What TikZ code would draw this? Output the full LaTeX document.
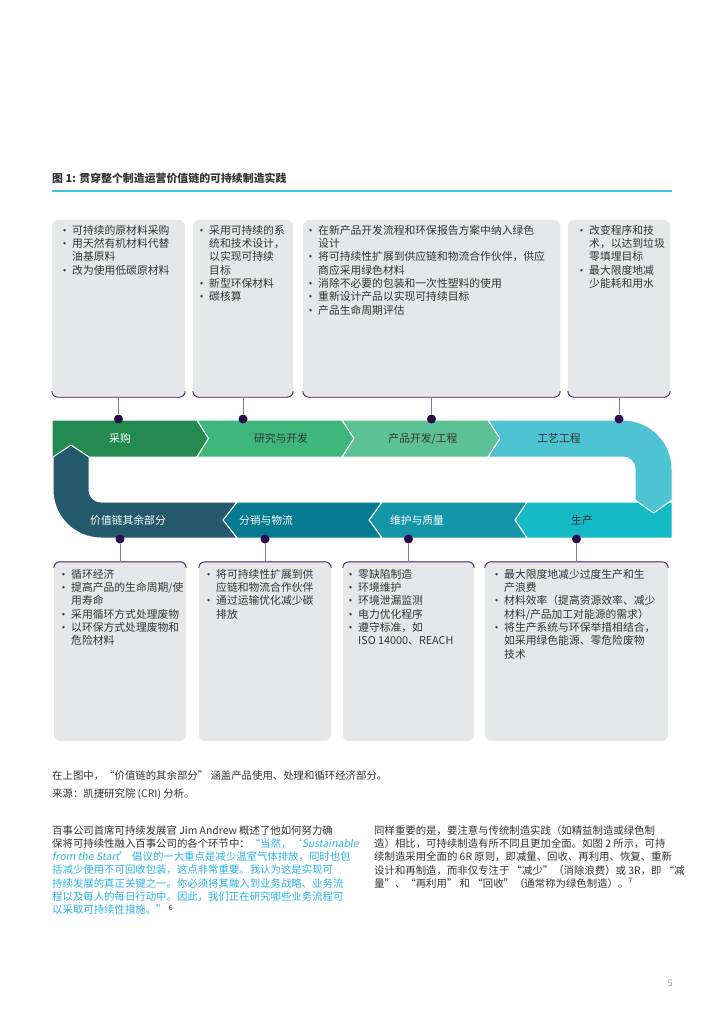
\documentclass[tikz,border=0pt]{standalone}
\usepackage{fontspec}
\setmainfont{Noto Sans CJK SC}
\newfontfamily\slantfont{Noto Sans CJK SC}[FakeSlant=0.18]
\newfontfamily\bulletfont{Liberation Sans}
\usepackage{xcolor}
\usepackage{tikz}
\usetikzlibrary{positioning}
\definecolor{vcInk}{HTML}{333333}
\definecolor{vcMuted}{HTML}{9A9A9A}
\definecolor{vcGreenA}{HTML}{23894F}
\definecolor{vcGreenB}{HTML}{3DB77C}
\definecolor{vcGreenC}{HTML}{5DC196}
\definecolor{vcCyan}{HTML}{4EC3D1}
\definecolor{vcTealA}{HTML}{14BBC7}
\definecolor{vcTealB}{HTML}{1496A8}
\definecolor{vcTealC}{HTML}{057A90}
\definecolor{vcNavy}{HTML}{245A6C}
\definecolor{vcBox}{HTML}{E6E7E8}
\definecolor{vcEdge}{HTML}{3B1F5E}
\definecolor{vcStem}{HTML}{8D6FA9}
\definecolor{vcDot}{HTML}{2C0B4C}
\definecolor{vcRule}{HTML}{3CC3E6}
\definecolor{vcQuote}{HTML}{2DB3E3}
\newcommand{\vbul}{\makebox[9pt][l]{\raisebox{1pt}{\bulletfont\fontsize{8.5}{8.5}\selectfont\textbullet}}}
\newcommand{\vind}{\hspace*{9pt}}
\tikzset{
  vc page/.style={x=1pt, y=-1pt, text=vcInk, line join=round},
  vc seg/.style={draw=white, line width=1pt},
  vc seglabel/.style={font=\fontsize{10.8}{13}\selectfont, inner sep=0pt},
  vc box/.style={fill=vcBox, rounded corners=6pt, inner sep=0pt},
  vc edge/.style={draw=vcEdge, line width=0.9pt},
  vc stem/.style={draw=vcStem, line width=0.9pt},
  vc dot/.style={circle, fill=vcDot, inner sep=0pt, minimum size=9pt},
  vc list/.style={anchor=north west, align=left, inner sep=0pt,
    font=\fontsize{10.8}{13.3}\selectfont},
  vc para/.style={anchor=north west, align=left, inner sep=0pt,
    font=\fontsize{10.4}{13.3}\selectfont}
}

\begin{document}
\begin{tikzpicture}[vc page]
\fill[white] (0,0) rectangle (724,1024);
\useasboundingbox (0,0) rectangle (724,1024);

\node[anchor=north west, inner sep=0pt, font=\fontsize{10.9}{13}\selectfont\bfseries] (title) at (52,173) {图 1: 贯穿整个制造运营价值链的可持续制造实践};
\draw[vcRule, line width=1.6pt] (52,191) -- (672,191);

% upper boxes
\node[vc box, minimum width=133pt, minimum height=177pt] (top1) at (118.5,308.5) {};
\node[vc box, minimum width=100pt, minimum height=177pt] (top2) at (243,308.5) {};
\node[vc box, minimum width=257pt, minimum height=177pt] (top3) at (431.5,308.5) {};
\node[vc box, minimum width=102pt, minimum height=177pt] (top4) at (619,308.5) {};
\foreach \b in {top1,top2,top3,top4}
  \draw[vc edge] ([yshift=6pt]\b.south west) to[out=-90,in=180] ([xshift=6pt]\b.south west)
    -- ([xshift=-6pt]\b.south east) to[out=0,in=-90] ([yshift=6pt]\b.south east);

\node[vc list] (listTop1) at (63,225) {\vbul 可持续的原材料采购\\ \vbul 用天然有机材料代替\\ \vind 油基原料\\ \vbul 改为使用低碳原材料};
\node[vc list] (listTop2) at (200,225) {\vbul 采用可持续的系\\ \vind 统和技术设计，\\ \vind 以实现可持续\\ \vind 目标\\ \vbul 新型环保材料\\ \vbul 碳核算};
\node[vc list] (listTop3) at (309,225) {\vbul 在新产品开发流程和环保报告方案中纳入绿色\\ \vind 设计\\ \vbul 将可持续性扩展到供应链和物流合作伙伴，供应\\ \vind 商应采用绿色材料\\ \vbul 消除不必要的包装和一次性塑料的使用\\ \vbul 重新设计产品以实现可持续目标\\ \vbul 产品生命周期评估};
\node[vc list] (listTop4) at (580,225) {\vbul 改变程序和技\\ \vind 术，以达到垃圾\\ \vind 零填埋目标\\ \vbul 最大限度地减\\ \vind 少能耗和用水};

% value chain band
\path[vc seg, fill=vcGreenA] (52,420) -- (197,420) -- (208.5,438.5) -- (197,457) -- (52,457) -- cycle;
\path[vc seg, fill=vcGreenB] (197,420) -- (342,420) -- (354,438.5) -- (342,457) -- (197,457) -- (208.5,438.5) -- cycle;
\path[vc seg, fill=vcGreenC] (342,420) -- (488,420) -- (500,438.5) -- (488,457) -- (342,457) -- (354,438.5) -- cycle;
\path[vc seg, fill=vcTealA] (527,502) -- (672,502) -- (672,538) -- (527,538) -- (515,520) -- cycle;
\path[vc seg, fill=vcCyan] (488,420) -- (623,420) arc[start angle=90, end angle=0, radius=49pt]
  -- (672,500) -- (653.5,513) -- (635,500) -- (635,469) arc[start angle=0, end angle=90, radius=12pt]
  -- (488,457) -- (500,438.5) -- cycle;
\path[vc seg, fill=vcTealB] (382,502) -- (527,502) -- (515,520) -- (527,538) -- (382,538) -- (369,520) -- cycle;
\path[vc seg, fill=vcTealC] (237,502) -- (382,502) -- (369,520) -- (382,538) -- (237,538) -- (223,520) -- cycle;
\path[vc seg, fill=vcNavy] (53,457) -- (71,445) -- (89,457) -- (89,490) arc[start angle=180, end angle=270, radius=12pt]
  -- (237,502) -- (223,520) -- (237,538) -- (101,538) arc[start angle=270, end angle=180, radius=48pt] -- cycle;

\node[vc seglabel, text=white] (sProcure) at (120,438.5) {采购};
\node[vc seglabel] (sResearch) at (281,438.5) {研究与开发};
\node[vc seglabel] (sProduct) at (423,438.5) {产品开发/工程};
\node[vc seglabel] (sProcess) at (559,438.5) {工艺工程};
\node[vc seglabel] (sMake) at (582,520) {生产};
\node[vc seglabel, text=white] (sQuality) at (417,520) {维护与质量};
\node[vc seglabel, text=white] (sLogistics) at (266,520) {分销与物流};
\node[vc seglabel, text=white] (sRest) at (128,520) {价值链其余部分};

% dots and stems
\node[vc dot] (dTop1) at (118.5,419) {};
\node[vc dot] (dTop2) at (243,419) {};
\node[vc dot] (dTop3) at (431.5,419) {};
\node[vc dot] (dTop4) at (619,419) {};
\node[vc dot] (dBot1) at (120,539) {};
\node[vc dot] (dBot2) at (265,539) {};
\node[vc dot] (dBot3) at (408.5,539) {};
\node[vc dot] (dBot4) at (576.5,539) {};

% lower boxes
\node[vc box, minimum width=132pt, minimum height=179pt] (bot1) at (120,651.5) {};
\node[vc box, minimum width=132pt, minimum height=179pt] (bot2) at (265,651.5) {};
\node[vc box, minimum width=131pt, minimum height=179pt] (bot3) at (408.5,651.5) {};
\node[vc box, minimum width=183pt, minimum height=179pt] (bot4) at (576.5,651.5) {};
\foreach \b in {bot1,bot2,bot3,bot4}
  \draw[vc edge] ([yshift=-6pt]\b.north west) to[out=90,in=180] ([xshift=6pt]\b.north west)
    -- ([xshift=-6pt]\b.north east) to[out=0,in=90] ([yshift=-6pt]\b.north east);
\foreach \i in {1,...,4} {
  \draw[vc stem] (top\i.south) -- (dTop\i);
  \draw[vc stem] (bot\i.north) -- (dBot\i);
}

\node[vc list] (listBot1) at (62,569) {\vbul 循环经济\\ \vbul 提高产品的生命周期/使\\ \vind 用寿命\\ \vbul 采用循环方式处理废物\\ \vbul 以环保方式处理废物和\\ \vind 危险材料};
\node[vc list] (listBot2) at (207,569) {\vbul 将可持续性扩展到供\\ \vind 应链和物流合作伙伴\\ \vbul 通过运输优化减少碳\\ \vind 排放};
\node[vc list] (listBot3) at (349,569) {\vbul 零缺陷制造\\ \vbul 环境维护\\ \vbul 环境泄漏监测\\ \vbul 电力优化程序\\ \vbul 遵守标准，如\\ \vind ISO 14000、REACH};
\node[vc list] (listBot4) at (495,569) {\vbul 最大限度地减少过度生产和生\\ \vind 产浪费\\ \vbul 材料效率（提高资源效率、减少\\ \vind 材料/产品加工对能源的需求）\\ \vbul 将生产系统与环保举措相结合，\\ \vind 如采用绿色能源、零危险废物\\ \vind 技术};

% text below the figure
\node[vc para] (note) at (52,770) {在上图中，“价值链的其余部分” 涵盖产品使用、处理和循环经济部分。};
\node[vc para] (source) at (52,788) {来源：凯捷研究院 (CRI) 分析。};
\node[vc para] (quoteCol) at (52,825) {百事公司首席可持续发展官 Jim Andrew 概述了他如何努力确\\
  保将可持续性融入百事公司的各个环节中：\textcolor{vcQuote}{“当然，‘{\slantfont Sustainable}}\\
  \textcolor{vcQuote}{{\slantfont from the Start}’ 倡议的一大重点是减少温室气体排放，同时也包}\\
  \textcolor{vcQuote}{括减少使用不可回收包装，这点非常重要。我认为这是实现可}\\
  \textcolor{vcQuote}{持续发展的真正关键之一。你必须将其融入到业务战略、业务流}\\
  \textcolor{vcQuote}{程以及每人的每日行动中。因此，我们正在研究哪些业务流程可}\\
  \textcolor{vcQuote}{以采取可持续性措施。”} \textsuperscript{6}};
\node[vc para] (rightCol) at (374,825) {同样重要的是，要注意与传统制造实践（如精益制造或绿色制\\
  造）相比，可持续制造有所不同且更加全面。如图 2 所示，可持\\
  续制造采用全面的 6R 原则，即减量、回收、再利用、恢复、重新\\
  设计和再制造，而非仅专注于 “减少”（消除浪费）或 3R，即 “减\\
  量”、“再利用” 和 “回收”（通常称为绿色制造）。\textsuperscript{7}};
\node[font=\fontsize{9}{10}\selectfont, text=vcMuted, inner sep=0pt] (pageNo) at (670,983) {5};
\end{tikzpicture}
\end{document}
